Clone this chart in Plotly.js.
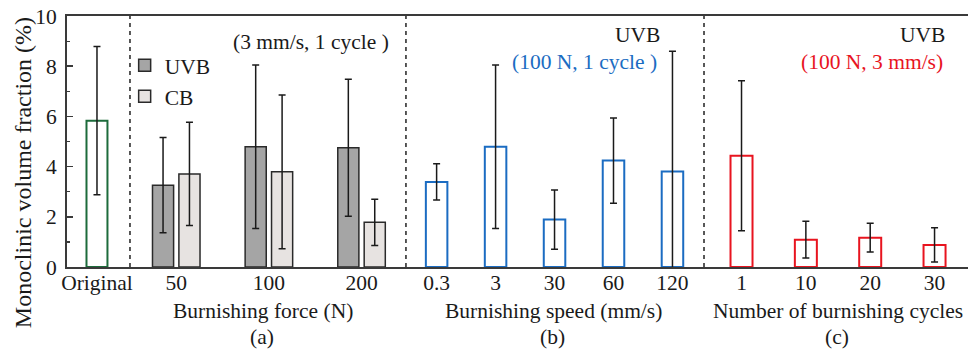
<!DOCTYPE html>
<html>
<head>
<meta charset="utf-8">
<script src="https://cdn.plot.ly/plotly-3.0.1.min.js"></script>
<style>
  html, body { margin: 0; padding: 0; background: #fff; }
  #chart { width: 968px; height: 352px; }
</style>
</head>
<body>
<div id="chart"></div>
<script>
// Monoclinic volume fraction (%) — mean values with error bars

// As-received sample
const originalCats = ['Original'];
const originalVals = [5.83];
const originalErr  = [2.95];

// (a) burnishing force, UVB vs CB (3 mm/s, 1 cycle)
const forceCats   = ['50', '100', '200'];
const uvbForce    = [3.26, 4.79, 4.75];
const uvbForceErr = [1.90, 3.26, 2.73];
const cbForce     = [3.71, 3.79, 1.78];
const cbForceErr  = [2.06, 3.06, 0.92];

// (b) burnishing speed, UVB (100 N, 1 cycle)
const speedCats = ['0.3', '3', '30', '60', '120'];
const speedVals = [3.39, 4.79, 1.89, 4.24, 3.80];
const speedErr  = [0.72, 3.26, 1.18, 1.70, 4.80];

// (c) number of burnishing cycles, UVB (100 N, 3 mm/s)
const cycleCats = ['1', '10', '20', '30'];
const cycleVals = [4.43, 1.09, 1.17, 0.88];
const cycleErr  = [2.99, 0.73, 0.57, 0.68];

const FONT = 'Liberation Serif, Times New Roman, serif';
const TXT = '#1a1a1a';
const FS = 21.5;

function errBars(arr) {
  return { type: 'data', array: arr, visible: true, color: '#1a1a1a', thickness: 1.5, width: 3.5 };
}

const traces = [
  {
    type: 'bar', x: originalCats, y: originalVals, xaxis: 'x', yaxis: 'y',
    width: 0.333, marker: { color: 'rgba(0,0,0,0)', line: { color: '#1d6b3b', width: 2 } },
    error_y: errBars(originalErr), showlegend: false
  },
  {
    type: 'bar', name: 'UVB', x: forceCats, y: uvbForce, xaxis: 'x2', yaxis: 'y',
    width: 0.228, offset: -0.257,
    marker: { color: '#a5a5a5', line: { color: '#2a2a2a', width: 1.5 } },
    error_y: errBars(uvbForceErr), showlegend: true
  },
  {
    type: 'bar', name: 'CB', x: forceCats, y: cbForce, xaxis: 'x2', yaxis: 'y',
    width: 0.228, offset: 0.028,
    marker: { color: '#e7e3e1', line: { color: '#2a2a2a', width: 1.5 } },
    error_y: errBars(cbForceErr), showlegend: true
  },
  {
    type: 'bar', x: speedCats, y: speedVals, xaxis: 'x3', yaxis: 'y',
    width: 0.365, marker: { color: 'rgba(0,0,0,0)', line: { color: '#1b6cc2', width: 2 } },
    error_y: errBars(speedErr), showlegend: false
  },
  {
    type: 'bar', x: cycleCats, y: cycleVals, xaxis: 'x4', yaxis: 'y',
    width: 0.342, marker: { color: 'rgba(0,0,0,0)', line: { color: '#e8141f', width: 2 } },
    error_y: errBars(cycleErr), showlegend: false
  }
];

// Panel boundaries (fractions of the plotting width)
const B1 = 0.0699, B2 = 0.3762, B3 = 0.707;

function xAxis(domain, range) {
  return {
    type: 'category', domain: domain, range: range, anchor: 'y',
    showline: true, linecolor: '#3a3a3a', linewidth: 2, mirror: true,
    ticks: '', showgrid: false, zeroline: false, fixedrange: true,
    ticklabelstandoff: -5,
    tickfont: { family: FONT, size: FS, color: TXT }
  };
}

const layout = {
  width: 968, height: 352,
  margin: { l: 67, r: 0, t: 16, b: 85 },
  paper_bgcolor: '#fff', plot_bgcolor: '#fff',
  barmode: 'overlay',
  font: { family: FONT, size: FS, color: TXT },
  xaxis:  xAxis([0, B1], [-0.476, 0.524]),
  xaxis2: xAxis([B1, B2], [-0.5, 2.479]),
  xaxis3: xAxis([B2, B3], [-0.52, 4.535]),
  xaxis4: xAxis([B3, 1], [-0.583, 3.52]),
  yaxis: {
    range: [0, 10], dtick: 2, tick0: 0,
    ticks: 'inside', ticklen: 6, tickwidth: 1.5, tickcolor: '#3a3a3a',
    minor: { dtick: 1, ticks: 'inside', ticklen: 3, tickwidth: 1.2, tickcolor: '#3a3a3a' },
    showline: true, linecolor: '#3a3a3a', linewidth: 2,
    showgrid: false, zeroline: false, fixedrange: true,
    ticklabelstandoff: 4,
    tickfont: { family: FONT, size: FS, color: TXT }
  },
  legend: {
    x: 0.064, y: 0.885, xanchor: 'left', yanchor: 'top',
    bgcolor: 'rgba(0,0,0,0)', borderwidth: 0,
    font: { family: FONT, size: FS, color: TXT },
    tracegroupgap: 0
  },
  shapes: [B1, B2, B3].map(b => ({
    type: 'line', xref: 'paper', yref: 'paper', x0: b, x1: b, y0: 0, y1: 1,
    line: { color: '#222', width: 1.5, dash: '4px,4px' }
  })),
  annotations: [
    { text: 'Monoclinic volume fraction (%)', textangle: -90, xref: 'paper', yref: 'paper',
      x: -0.0488, y: 0.374, xanchor: 'center', yanchor: 'middle', showarrow: false,
      font: { family: FONT, size: 24, color: TXT } },
    { text: 'Burnishing force (N)', xref: 'paper', yref: 'paper', x: 0.2175, y: -0.1767,
      xanchor: 'center', yanchor: 'middle', showarrow: false },
    { text: '(a)', xref: 'paper', yref: 'paper', x: 0.2164, y: -0.2804,
      xanchor: 'center', yanchor: 'middle', showarrow: false },
    { text: 'Burnishing speed (mm/s)', xref: 'paper', yref: 'paper', x: 0.5405, y: -0.1767,
      xanchor: 'center', yanchor: 'middle', showarrow: false },
    { text: '(b)', xref: 'paper', yref: 'paper', x: 0.5383, y: -0.2804,
      xanchor: 'center', yanchor: 'middle', showarrow: false },
    { text: 'Number of burnishing cycles', xref: 'paper', yref: 'paper', x: 0.8557, y: -0.1767,
      xanchor: 'center', yanchor: 'middle', showarrow: false },
    { text: '(c)', xref: 'paper', yref: 'paper', x: 0.8546, y: -0.2804,
      xanchor: 'center', yanchor: 'middle', showarrow: false },
    { text: '(3 mm/s, 1 cycle )', xref: 'paper', yref: 'paper', x: 0.2708, y: 0.8975,
      xanchor: 'center', yanchor: 'middle', showarrow: false },
    { text: 'UVB', xref: 'paper', yref: 'paper', x: 0.6604, y: 0.924,
      xanchor: 'right', yanchor: 'middle', showarrow: false },
    { text: '(100 N, 1 cycle )', xref: 'paper', yref: 'paper', x: 0.657, y: 0.8177,
      xanchor: 'right', yanchor: 'middle', showarrow: false,
      font: { family: FONT, size: FS, color: '#1b6cc2' } },
    { text: 'UVB', xref: 'paper', yref: 'paper', x: 0.9763, y: 0.924,
      xanchor: 'right', yanchor: 'middle', showarrow: false },
    { text: '(100 N, 3 mm/s)', xref: 'paper', yref: 'paper', x: 0.9745, y: 0.8177,
      xanchor: 'right', yanchor: 'middle', showarrow: false,
      font: { family: FONT, size: FS, color: '#e8141f' } }
  ]
};

Plotly.newPlot('chart', traces, layout, { staticPlot: true, displayModeBar: false });
</script>
</body>
</html>
